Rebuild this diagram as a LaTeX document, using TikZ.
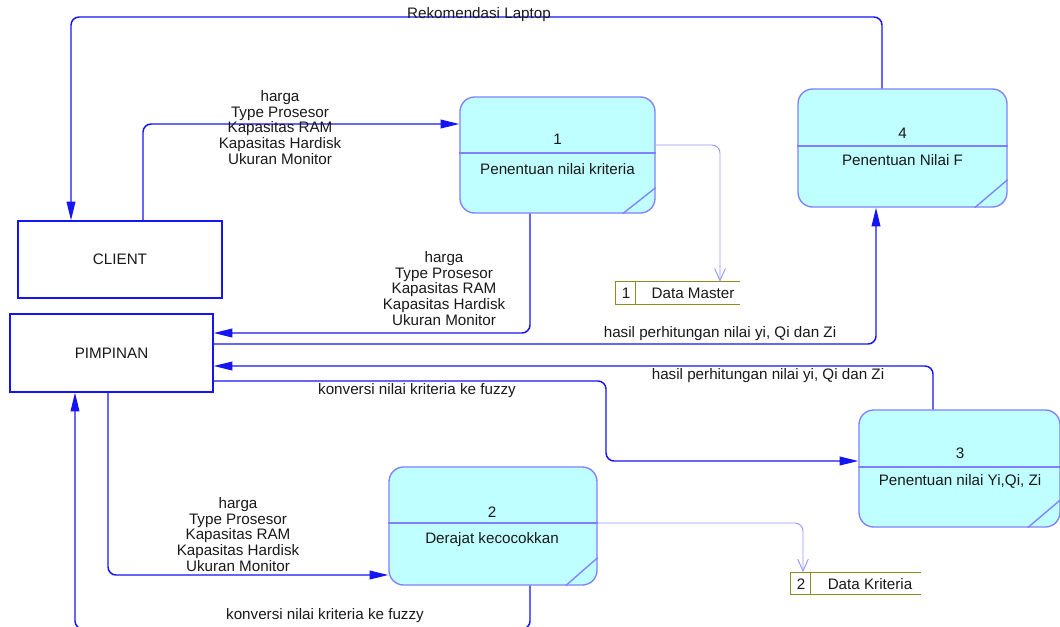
\documentclass[tikz,border=0pt]{standalone}
\usepackage{fontspec}
\setmainfont{Liberation Sans}
\usetikzlibrary{arrows.meta,calc}
\definecolor{flowblue}{RGB}{20,20,245}
\definecolor{procedge}{RGB}{128,128,255}
\definecolor{procfill}{RGB}{192,255,255}
\definecolor{storeedge}{RGB}{140,140,30}
\definecolor{dsflow}{RGB}{150,150,255}
\definecolor{ink}{RGB}{25,25,25}
\begin{document}
\begin{tikzpicture}[x=0.75pt,y=-0.75pt,
  txt/.style={font=\fontsize{11.4}{11.8}\selectfont, text=ink, inner sep=0pt, align=center},
  entity/.style={draw=flowblue, line width=0.9pt, fill=white, txt},
  proc/.style={draw=procedge, fill=procfill, line width=1pt, rounded corners=11pt, inner sep=0pt},
  procline/.style={draw=procedge, line width=1pt},
  storebox/.style={draw=none, inner sep=0pt, minimum height=16.5pt},
  storeline/.style={draw=storeedge, line width=1pt},
  flow/.style={draw=flowblue, line width=1.1pt, rounded corners=6pt, -{Triangle[length=14pt,width=6.5pt]}},
  dsline/.style={draw=dsflow, line width=0.7pt, rounded corners=6pt, -{Straight Barb[length=9pt,width=8pt]}}]
\useasboundingbox (0,0) rectangle (1060,626);

% external entities
\node[entity, minimum width=153pt, minimum height=57.75pt] (client) at (120,259.5) {CLIENT};
\node[entity, minimum width=152.25pt, minimum height=58.5pt] (pimp) at (111.5,353) {PIMPINAN};

% processes
\node[proc, minimum width=146.25pt, minimum height=87pt] (p1) at (557.5,155) {};
\node[proc, minimum width=156.75pt, minimum height=88.5pt] (p4) at (902.5,148) {};
\node[proc, minimum width=150.75pt, minimum height=87.75pt] (p3) at (959.5,468.5) {};
\node[proc, minimum width=156pt, minimum height=88.5pt] (p2) at (493,526) {};

\draw[procline] (p1.west |- 0,153) -- (p1.east |- 0,153);
\draw[procline] (p4.west |- 0,146) -- (p4.east |- 0,146);
\draw[procline] (p3.west |- 0,467) -- (p3.east |- 0,467);
\draw[procline] (p2.west |- 0,523) -- (p2.east |- 0,523);

\draw[procline] ($(p1.south east)+(0,-26)$) -- ($(p1.south east)+(-33,0)$);
\draw[procline] ($(p4.south east)+(0,-28)$) -- ($(p4.south east)+(-33,0)$);
\draw[procline] ($(p3.south east)+(0,-28)$) -- ($(p3.south east)+(-33,0)$);
\draw[procline] ($(p2.south east)+(0,-28)$) -- ($(p2.south east)+(-32,0)$);

\node[txt] (p1num) at (557.5,139) {1};
\node[txt] (p1txt) at (557.5,169) {Penentuan nilai kriteria};
\node[txt] (p4num) at (902.5,133) {4};
\node[txt] (p4txt) at (902.5,160) {Penentuan Nilai F};
\node[txt] (p3num) at (960,453) {3};
\node[txt] (p3txt) at (960,481) {Penentuan nilai Yi,Qi, Zi};
\node[txt] (p2num) at (492,512) {2};
\node[txt] (p2txt) at (492,540) {Derajat kecocokkan};

% data stores
\node[storebox, minimum width=93pt] (ds1) at (678,293) {};
\draw[storeline] (ds1.north east) -- (ds1.north west) -- (ds1.south west) -- (ds1.south east);
\draw[storeline] ($(ds1.north west)+(20,0)$) -- ($(ds1.south west)+(20,0)$);
\node[txt] (ds1num) at (626,293) {1};
\node[txt] (ds1txt) at (693,293) {Data Master};

\node[storebox, minimum width=97.5pt] (ds2) at (856,583.5) {};
\draw[storeline] (ds2.north east) -- (ds2.north west) -- (ds2.south west) -- (ds2.south east);
\draw[storeline] ($(ds2.north west)+(20,0)$) -- ($(ds2.south west)+(20,0)$);
\node[txt] (ds2num) at (801,584) {2};
\node[txt] (ds2txt) at (870,584) {Data Kriteria};

% data flows
\draw[flow] (p4.north -| 882,0) |- (71,17) -- (client.north -| 71,0);
\draw[flow] (client.north -| 143,0) |- (p1.west |- 0,124);
\draw[flow] (p1.south -| 530,0) |- (pimp.east |- 0,333);
\draw[flow] (pimp.east |- 0,344) -| (p4.south -| 876,0);
\draw[flow] (p3.north -| 933,0) |- (pimp.east |- 0,366);
\draw[flow] (pimp.east |- 0,381) -| (606,461) -- (p3.west |- 0,461);
\draw[flow] (pimp.south -| 108,0) |- (p2.west |- 0,575);
\draw[flow] (p2.south -| 530,0) -- (530,629) -- (75,629) -- (pimp.south -| 75,0);

\draw[dsline] (p1.east |- 0,145) -| (ds1.north -| 720,0);
\draw[dsline] (p2.east |- 0,523) -| (ds2.north -| 803,0);

% flow labels
\node[txt] (l1) at (479,15) {Rekomendasi Laptop};
\node[txt] (l2) at (280,127.5) {harga\\Type Prosesor\\Kapasitas RAM\\Kapasitas Hardisk\\Ukuran Monitor};
\node[txt] (l3) at (444,288.5) {harga\\Type Prosesor\\Kapasitas RAM\\Kapasitas Hardisk\\Ukuran Monitor};
\node[txt] (l4) at (720,334) {hasil perhitungan nilai yi, Qi dan Zi};
\node[txt] (l5) at (768,376) {hasil perhitungan nilai yi, Qi dan Zi};
\node[txt] (l6) at (417,391) {konversi nilai kriteria ke fuzzy};
\node[txt] (l7) at (238,534.5) {harga\\Type Prosesor\\Kapasitas RAM\\Kapasitas Hardisk\\Ukuran Monitor};
\node[txt] (l8) at (325,616) {konversi nilai kriteria ke fuzzy};
\end{tikzpicture}
\end{document}
